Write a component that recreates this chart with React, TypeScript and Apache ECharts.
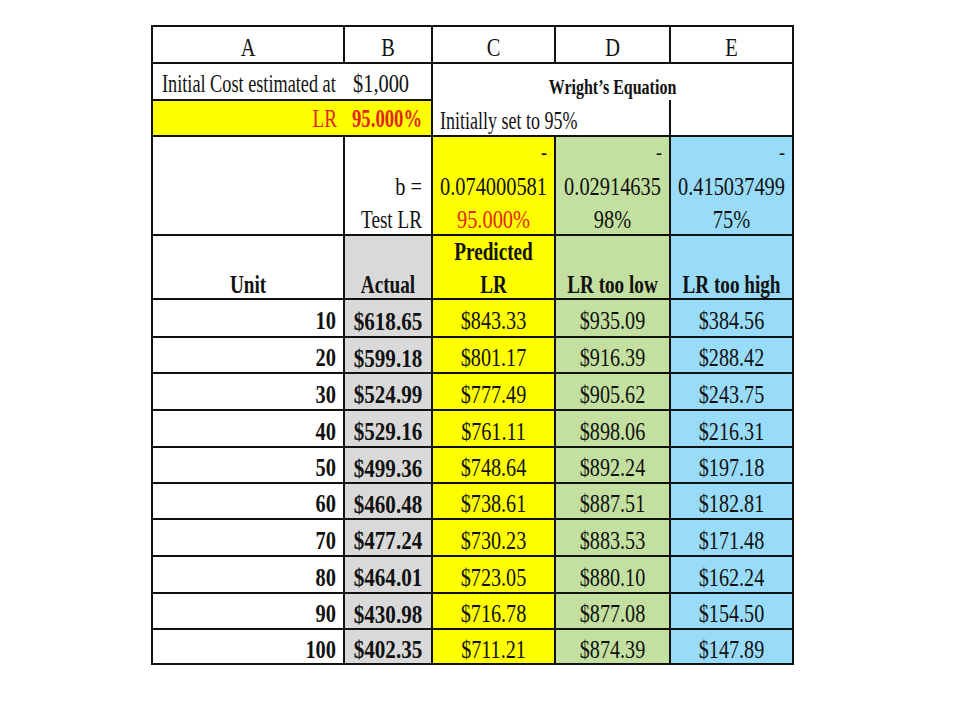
import { useEffect, useRef } from 'react';
import * as echarts from 'echarts';

const colLetters = ['A', 'B', 'C', 'D', 'E'];
const initialCostLabel = 'Initial Cost estimated at';
const initialCost = '$1,000';
const lrLabel = 'LR';
const lrValue = '95.000%';
const equationTitle = 'Wright\u2019s Equation';
const equationNote = 'Initially set to 95%';
const bLabel = 'b =';
const testLabel = 'Test LR';
const bValues = ['0.074000581', '0.02914635', '0.415037499'];
const testLR = ['95.000%', '98%', '75%'];
const unitHeader = 'Unit';
const seriesHeaders = ['Actual', 'Predicted\nLR', 'LR too low', 'LR too high'];

const units = [10, 20, 30, 40, 50, 60, 70, 80, 90, 100];
const actual = [618.65, 599.18, 524.99, 529.16, 499.36, 460.48, 477.24, 464.01, 430.98, 402.35];
const predicted = [843.33, 801.17, 777.49, 761.11, 748.64, 738.61, 730.23, 723.05, 716.78, 711.21];
const tooLow = [935.09, 916.39, 905.62, 898.06, 892.24, 887.51, 883.53, 880.1, 877.08, 874.39];
const tooHigh = [384.56, 288.42, 243.75, 216.31, 197.18, 182.81, 171.48, 162.24, 154.5, 147.89];

// sheet layout (column / row edges in sheet units)
const colEdges = [0, 192, 280, 403, 518, 641];
const rowEdges = [0, 37, 74, 110, 209, 273, 311, 347, 384, 421, 457, 493, 530, 567, 603, 638];

const FONT = '"Liberation Serif", "Times New Roman", serif';
const BASE_SIZE = 25;
const SQUEEZE = 0.96; // condensed look of the original sheet font
const INK = '#111111';
const RED = '#e3261c';
const YELLOW = '#ffff00';
const GREEN = '#c3e0a0';
const BLUE = '#99dcf9';
const GRAY = '#d9d9d9';
const WHITE = '#ffffff';
const bodyFills = [WHITE, GRAY, YELLOW, GREEN, BLUE];
const paramFills = [WHITE, WHITE, YELLOW, GREEN, BLUE];

type Cell = { c0: number; c1: number; r0: number; r1: number; fill: string };
type Txt = {
  t: string;
  col: number;
  span?: number;
  align: 'left' | 'center' | 'right';
  y: number;
  bold?: boolean;
  color?: string;
  size?: number;
  sx?: number;
  pad?: number;
};

const money = (v: number) => `$${v.toFixed(2)}`;

function buildCells(): Cell[] {
  const cells: Cell[] = [];
  colLetters.forEach((_, i) => cells.push({ c0: i, c1: i + 1, r0: 0, r1: 1, fill: WHITE }));
  cells.push({ c0: 0, c1: 2, r0: 1, r1: 2, fill: WHITE });
  cells.push({ c0: 0, c1: 2, r0: 2, r1: 3, fill: YELLOW });
  cells.push({ c0: 2, c1: 5, r0: 1, r1: 3, fill: WHITE });
  for (let c = 0; c < 5; c++) cells.push({ c0: c, c1: c + 1, r0: 3, r1: 4, fill: paramFills[c] });
  for (let c = 0; c < 5; c++) cells.push({ c0: c, c1: c + 1, r0: 4, r1: 5, fill: bodyFills[c] });
  units.forEach((_, r) => {
    for (let c = 0; c < 5; c++) cells.push({ c0: c, c1: c + 1, r0: 5 + r, r1: 6 + r, fill: bodyFills[c] });
  });
  return cells;
}

function buildTexts(): Txt[] {
  const out: Txt[] = [];
  colLetters.forEach((l, i) => out.push({ t: l, col: i, align: 'center', y: 22, sx: 0.85 }));
  out.push({ t: initialCostLabel, col: 0, align: 'left', y: 58, sx: 0.76, pad: 10 });
  out.push({ t: initialCost, col: 1, align: 'left', y: 58, sx: 0.85, pad: 9 });
  out.push({ t: lrLabel, col: 0, align: 'right', y: 93, color: RED, sx: 0.8, pad: 7 });
  out.push({ t: lrValue, col: 1, align: 'left', y: 93, color: RED, bold: true, sx: 0.78, pad: 8 });
  out.push({ t: equationTitle, col: 2, span: 3, align: 'center', y: 61, bold: true, size: 20, sx: 0.8 });
  out.push({ t: equationNote, col: 2, align: 'left', y: 95, sx: 0.75, pad: 8 });
  out.push({ t: bLabel, col: 1, align: 'right', y: 161, sx: 0.85, pad: 10 });
  out.push({ t: testLabel, col: 1, align: 'right', y: 194, sx: 0.8, pad: 10 });
  bValues.forEach((b, i) => {
    out.push({ t: '-', col: 2 + i, align: 'right', y: 127, size: 18, bold: true, pad: 8 });
    out.push({ t: b, col: 2 + i, align: 'center', y: 161, sx: 0.85 });
    out.push({ t: testLR[i], col: 2 + i, align: 'center', y: 194, sx: 0.85, color: i === 0 ? RED : INK });
  });
  out.push({ t: unitHeader, col: 0, align: 'center', y: 259, bold: true, sx: 0.8 });
  seriesHeaders.forEach((h, i) => {
    const lines = h.split('\n');
    lines.forEach((ln, k) => {
      out.push({ t: ln, col: 1 + i, align: 'center', y: 259 - (lines.length - 1 - k) * 33, bold: true, sx: 0.8 });
    });
  });
  units.forEach((u, r) => {
    const y = (rowEdges[5 + r] + rowEdges[6 + r]) / 2 + 3;
    out.push({ t: String(u), col: 0, align: 'right', y, bold: true, sx: 0.85, pad: 8 });
    out.push({ t: money(actual[r]), col: 1, align: 'center', y, bold: true, sx: 0.88 });
    out.push({ t: money(predicted[r]), col: 2, align: 'center', y, sx: 0.84 });
    out.push({ t: money(tooLow[r]), col: 3, align: 'center', y, sx: 0.84 });
    out.push({ t: money(tooHigh[r]), col: 4, align: 'center', y, sx: 0.84 });
  });
  return out;
}

function anchorX(t: Txt) {
  const left = colEdges[t.col];
  const right = colEdges[t.col + (t.span ?? 1)];
  if (t.align === 'left') return left + (t.pad ?? 8);
  if (t.align === 'right') return right - (t.pad ?? 8);
  return (left + right) / 2;
}

export default function App() {
  const chartRef = useRef<HTMLDivElement>(null);

  useEffect(() => {
    if (!chartRef.current) return;
    const chart = echarts.init(chartRef.current, null, { renderer: 'svg' });
    const cells = buildCells();
    const texts = buildTexts();

    chart.setOption({
      animation: false,
      backgroundColor: '#ffffff',
      grid: { left: 152, top: 26, width: 641, height: 638, containLabel: false },
      xAxis: { type: 'value', min: 0, max: 641, show: false },
      yAxis: { type: 'value', min: 0, max: 638, inverse: true, show: false },
      series: [
        {
          type: 'custom',
          clip: false,
          silent: true,
          z: 1,
          data: cells.map((c) => [colEdges[c.c0], rowEdges[c.r0]]),
          renderItem: (params: any, api: any) => {
            const c = cells[params.dataIndex];
            const p0 = api.coord([colEdges[c.c0], rowEdges[c.r0]]);
            const p1 = api.coord([colEdges[c.c1], rowEdges[c.r1]]);
            return {
              type: 'rect',
              shape: { x: p0[0], y: p0[1], width: p1[0] - p0[0], height: p1[1] - p0[1] },
              style: { fill: c.fill, stroke: INK, lineWidth: 2 },
            };
          },
        },
        {
          type: 'custom',
          clip: false,
          silent: true,
          z: 2,
          data: [[colEdges[4], rowEdges[2]]],
          renderItem: (params: any, api: any) => {
            const a = api.coord([colEdges[4], rowEdges[2]]);
            const b = api.coord([colEdges[4], rowEdges[3]]);
            return {
              type: 'line',
              shape: { x1: a[0], y1: a[1], x2: b[0], y2: b[1] },
              style: { stroke: INK, lineWidth: 2 },
            };
          },
        },
        {
          type: 'custom',
          clip: false,
          silent: true,
          z: 3,
          data: texts.map((t) => [anchorX(t), t.y]),
          renderItem: (params: any, api: any) => {
            const t = texts[params.dataIndex];
            const p = api.coord([anchorX(t), t.y]);
            return {
              type: 'text',
              x: p[0],
              y: p[1],
              scaleX: (t.sx ?? 1) * (t.size ? 1 : SQUEEZE),
              style: {
                text: t.t,
                x: 0,
                y: 0,
                fill: t.color ?? INK,
                fontFamily: FONT,
                fontSize: t.size ?? BASE_SIZE,
                fontWeight: t.bold ? 'bold' : 'normal',
                align: t.align,
                verticalAlign: 'middle',
              },
            };
          },
        },
      ],
    });

    return () => {
      chart.dispose();
    };
  }, []);

  return (
    <div
      ref={chartRef}
      style={{ position: 'fixed', left: 0, top: 0, width: 960, height: 720, background: '#ffffff' }}
    />
  );
}
